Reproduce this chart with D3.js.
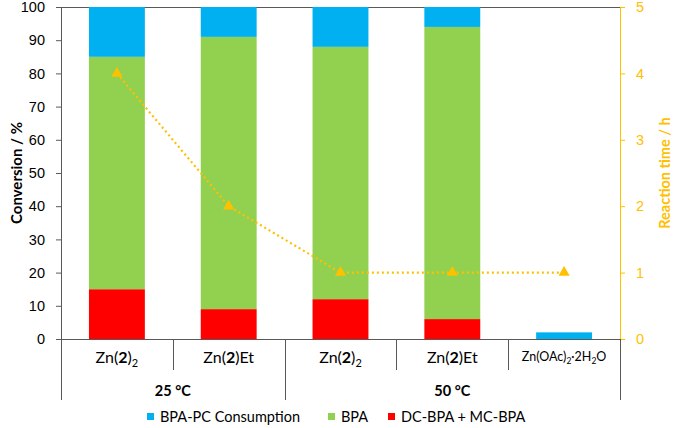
<!DOCTYPE html>
<html><head><meta charset="utf-8">
<script src="https://cdn.jsdelivr.net/npm/d3@7"></script>
<style>body{margin:0;background:#fff}svg{font-family:Lato,"Open Sans",sans-serif}</style>
</head><body>
<svg id="c" width="678" height="428"></svg>
<script>
const categories = ["Zn(2)2", "Zn(2)Et", "Zn(2)2 ", "Zn(2)Et ", "Zn(OAc)2·2H2O"];
const groups = [{name: "25 °C", start: 0, end: 2}, {name: "50 °C", start: 2, end: 5}];
const dcMc = [15, 9, 12, 6, 0];
const bpa = [70, 82, 76, 88, 0];
const bpaPc = [15, 9, 12, 6, 2];
const reactionTime = [4, 2, 1, 1, 1];
const leftTicks = [0, 10, 20, 30, 40, 50, 60, 70, 80, 90, 100];
const rightTicks = [0, 1, 2, 3, 4, 5];
const seriesNames = ["BPA-PC Consumption", "BPA", "DC-BPA + MC-BPA"];
const colors = {"BPA-PC Consumption": "#00B0F0", "BPA": "#92D050", "DC-BPA + MC-BPA": "#FF0000"};
const lineColor = "#FFC000";

const svg = d3.select("#c");
const L = 61, R = 620, T = 7, B = 339;
const x = d3.scaleBand().domain(categories).range([L, R]).paddingInner(0.5).paddingOuter(0.25);
const y = d3.scaleLinear().domain([0, 100]).range([B, T]);
const y2 = d3.scaleLinear().domain([0, 5]).range([B, T]);

const rows = categories.map((c, i) => ({cat: c, "DC-BPA + MC-BPA": dcMc[i], "BPA": bpa[i], "BPA-PC Consumption": bpaPc[i]}));
const stack = d3.stack().keys(["DC-BPA + MC-BPA", "BPA", "BPA-PC Consumption"])(rows);

svg.append("line").attr("x1", L).attr("x2", R).attr("y1", T + 0.5).attr("y2", T + 0.5).attr("stroke", "#595959").attr("stroke-width", 1);

svg.append("g").selectAll("g").data(stack).join("g").attr("fill", d => colors[d.key])
  .selectAll("rect").data(d => d).join("rect")
  .attr("x", d => x(d.data.cat)).attr("width", x.bandwidth())
  .attr("y", d => y(d[1])).attr("height", d => y(d[0]) - y(d[1]));

const gl = svg.append("g").attr("transform", `translate(${L},0)`)
  .call(d3.axisLeft(y).tickValues(leftTicks).tickSize(5).tickPadding(11));
gl.select(".domain").attr("stroke", "#595959");
gl.selectAll(".tick line").attr("stroke", "#595959");
gl.selectAll("text").attr("font-size", 14.5).attr("fill", "#000");

const gr = svg.append("g").attr("transform", `translate(${R},0)`)
  .call(d3.axisRight(y2).tickValues(rightTicks).tickFormat(d3.format("d")).tickSize(5).tickPadding(11));
gr.select(".domain").attr("stroke", lineColor);
gr.selectAll(".tick line").attr("stroke", lineColor);
gr.selectAll("text").attr("font-size", 14.5).attr("fill", lineColor);

svg.append("line").attr("x1", L).attr("x2", R).attr("y1", B + 0.5).attr("y2", B + 0.5).attr("stroke", "#595959");

const bounds = d3.range(categories.length + 1).map(i => L + i * (R - L) / categories.length);
const groupBounds = new Set([0, 2, 5]);
bounds.forEach((bx, i) => {
  svg.append("line").attr("x1", Math.round(bx) + 0.5).attr("x2", Math.round(bx) + 0.5)
    .attr("y1", B).attr("y2", groupBounds.has(i) ? 400 : 370).attr("stroke", "#595959");
});

function catLabel(i) {
  const cx = (bounds[i] + bounds[i + 1]) / 2;
  const t = svg.append("text").attr("x", cx).attr("y", 363).attr("text-anchor", "middle").attr("fill", "#000");
  const c = categories[i].trim();
  if (c === "Zn(2)2") {
    t.attr("font-size", 16);
    t.append("tspan").text("Zn(");
    t.append("tspan").attr("font-weight", "bold").text("2");
    t.append("tspan").text(")");
    t.append("tspan").attr("font-size", 11).attr("dy", 4).text("2");
  } else if (c === "Zn(2)Et") {
    t.attr("font-size", 16);
    t.append("tspan").text("Zn(");
    t.append("tspan").attr("font-weight", "bold").text("2");
    t.append("tspan").text(")Et");
  } else {
    t.attr("font-size", 12.5).attr("y", 361);
    t.append("tspan").text("Zn(OAc)");
    t.append("tspan").attr("font-size", 8.5).attr("dy", 3).text("2");
    t.append("tspan").attr("dy", -3).text("·2H");
    t.append("tspan").attr("font-size", 8.5).attr("dy", 3).text("2");
    t.append("tspan").attr("dy", -3).text("O");
  }
}
categories.forEach((c, i) => catLabel(i));

groups.forEach(g => {
  svg.append("text").attr("x", (bounds[g.start] + bounds[g.end]) / 2).attr("y", 396)
    .attr("text-anchor", "middle").attr("font-size", 14.5).attr("font-weight", "bold").text(g.name);
});

const centers = categories.map(c => x(c) + x.bandwidth() / 2);
const line = d3.line().x((d, i) => centers[i]).y(d => y2(d));
svg.append("path").datum(reactionTime).attr("d", line).attr("fill", "none")
  .attr("stroke", lineColor).attr("stroke-width", 2.2).attr("stroke-dasharray", "2,3");
svg.append("g").selectAll("path").data(reactionTime).join("path")
  .attr("transform", (d, i) => `translate(${centers[i]},${y2(d)})`)
  .attr("d", d3.symbol().type(d3.symbolTriangle).size(55)).attr("fill", lineColor);

svg.append("text").attr("transform", `translate(17,${(T + B) / 2}) rotate(-90)`)
  .attr("text-anchor", "middle").attr("dy", "0.35em").attr("font-size", 15).attr("font-weight", "bold").text("Conversion / %");
svg.append("text").attr("transform", `translate(665,${(T + B) / 2}) rotate(-90)`)
  .attr("text-anchor", "middle").attr("dy", "0.35em").attr("font-size", 14.5).attr("font-weight", "bold").attr("fill", lineColor).text("Reaction time / h");

const legX = [147, 328, 388];
seriesNames.forEach((s, i) => {
  svg.append("rect").attr("x", legX[i]).attr("y", 413).attr("width", 7).attr("height", 7).attr("fill", colors[s]);
  svg.append("text").attr("x", legX[i] + 13).attr("y", 422).attr("font-size", 14.5).attr("fill", "#000").text(s);
});
</script>
</body></html>
